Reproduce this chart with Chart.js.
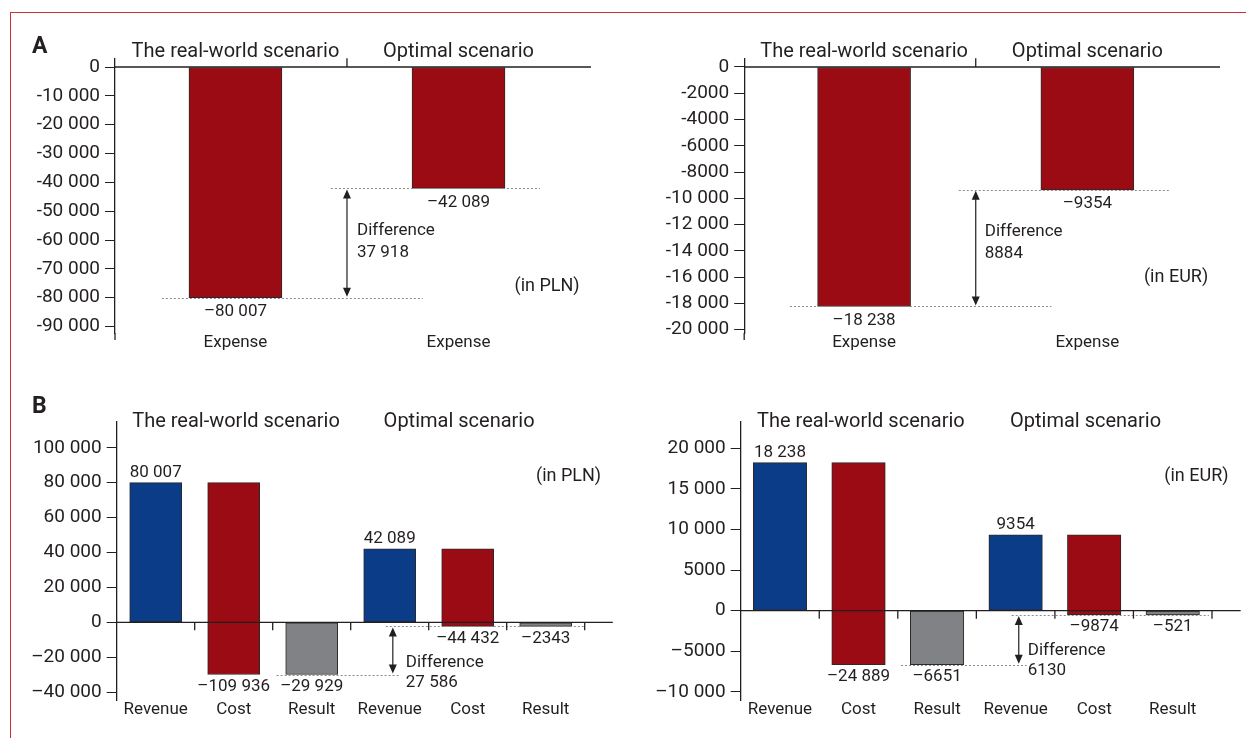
<!DOCTYPE html>
<html>
<head>
<meta charset="utf-8">
<script src="https://cdn.jsdelivr.net/npm/chart.js@4.4.1/dist/chart.umd.min.js"></script>
<style>
  html, body { margin: 0; padding: 0; background: #fff; overflow: hidden; }
  #page { position: relative; width: 1246px; height: 738px; overflow: hidden; }
  #frame { position: absolute; left: 10px; top: 12px; width: 1300px; height: 800px;
           border-top: 1.5px solid #c8323a; border-left: 1.5px solid #c8323a; }
  canvas { position: absolute; }
</style>
</head>
<body>
<div id="page">
  <div id="frame"></div>
  <canvas id="aPln" width="620" height="360" style="left:0;top:0"></canvas>
  <canvas id="aEur" width="626" height="360" style="left:620px;top:0"></canvas>
  <canvas id="bPln" width="620" height="368" style="left:0;top:370px"></canvas>
  <canvas id="bEur" width="626" height="368" style="left:620px;top:370px"></canvas>
</div>
<script>
// panel A: expenses per scenario
const scenarios = ["The real-world scenario", "Optimal scenario"];
const expenseLabels = ["Expense", "Expense"];
const expensePln = [-80007, -42089];
const expenseEur = [-18238, -9354];

// panel B: revenue / cost / result per scenario
const flowLabels = ["Revenue", "Cost", "Result", "Revenue", "Cost", "Result"];
const revenuePln = [80007, 42089];
const costPln = [-109936, -44432];
const resultPln = [-29929, -2343];
const revenueEur = [18238, 9354];
const costEur = [-24889, -9874];
const resultEur = [-6651, -521];

const RED = "#9b0b13", BLUE = "#0b3c87", GREY = "#818285", INK = "#231f20", DOTS = "#8c8c8c";
const FONT = "Roboto, 'Open Sans', sans-serif";

function fmt(v, dash) {
    const a = Math.abs(Math.round(v));
    let s = String(a);
    if (a >= 10000) s = s.replace(/\B(?=(\d{3})+(?!\d))/g, " ");
    return v < 0 ? dash + s : s;
}

function text(ctx, t, x, y, size, align, bold) {
    ctx.font = (bold ? "bold " : "") + size + "px " + FONT;
    ctx.textAlign = align || "center";
    ctx.textBaseline = "middle";
    ctx.fillStyle = INK;
    ctx.fillText(t, x, y);
}

// everything that is not a bar: zero line, dotted levels, arrow, notes
const deco = {
    id: "deco",
    afterDatasetsDraw(chart, args, o) {
        const ctx = chart.ctx, area = chart.chartArea;
        const px = v => chart.scales.x.getPixelForValue(v);
        const py = v => chart.scales.y.getPixelForValue(v);
        ctx.save();

        ctx.strokeStyle = DOTS;
        ctx.lineWidth = 1;
        ctx.setLineDash([2, 2]);
        for (const d of o.dots) {
            const y = Math.round(py(d.y)) + 0.5;
            ctx.beginPath();
            ctx.moveTo(px(d.x1), y);
            ctx.lineTo(px(d.x2), y);
            ctx.stroke();
        }
        ctx.setLineDash([]);

        ctx.strokeStyle = INK;
        ctx.lineWidth = 1.3;
        // y axis runs a little below the plot in panel A
        if (o.axisTail) {
            ctx.beginPath();
            ctx.moveTo(area.left, area.bottom);
            ctx.lineTo(area.left, area.bottom + o.axisTail);
            ctx.stroke();
        }
        const y0 = py(0);
        ctx.beginPath();
        ctx.moveTo(area.left, y0);
        ctx.lineTo(px(o.zeroEnd), y0);
        ctx.stroke();
        for (const c of o.cuts) {
            ctx.beginPath();
            ctx.moveTo(px(c), y0);
            ctx.lineTo(px(c), y0 + o.cutLen);
            ctx.stroke();
        }

        // double arrow between the two levels
        const a = o.arrow;
        const ax = px(a.x), ya = py(a.y1), yb = py(a.y2);
        ctx.lineWidth = 1.2;
        ctx.beginPath();
        ctx.moveTo(ax, ya + 6);
        ctx.lineTo(ax, yb - 6);
        ctx.stroke();
        ctx.fillStyle = INK;
        ctx.beginPath();
        ctx.moveTo(ax, ya + 1); ctx.lineTo(ax - 4, ya + 10); ctx.lineTo(ax + 4, ya + 10); ctx.closePath();
        ctx.moveTo(ax, yb - 1); ctx.lineTo(ax - 4, yb - 10); ctx.lineTo(ax + 4, yb - 10); ctx.closePath();
        ctx.fill();
        text(ctx, "Difference", ax + a.dx, ya + a.dy1, 17, "left");
        text(ctx, fmt(Math.abs(a.y2 - a.y1), ""), ax + a.dx, ya + a.dy2, 17, "left");

        for (const v of o.values) text(ctx, v.t, px(v.x), py(v.y) + v.dy, 17);
        o.titles.forEach((t, i) => text(ctx, t, px(o.titleX[i]), area.top + o.titleDy, 20));
        text(ctx, o.unit.t, px(o.unit.x), py(o.unit.y), 18, "right");
        if (o.letter) text(ctx, o.letter.t, o.letter.x, o.letter.y, 23, "left", true);
        ctx.restore();
    }
};

function panel(id, p) {
    return new Chart(document.getElementById(id), {
        type: "bar",
        data: {
            datasets: [{
                data: p.points,
                backgroundColor: p.colors,
                borderColor: "#2a2a2a",
                borderWidth: 1,
                borderSkipped: false,
                barThickness: p.barWidth,
            }],
        },
        options: {
            responsive: false,
            animation: false,
            devicePixelRatio: 1,
            layout: { padding: p.padding },
            plugins: { legend: { display: false }, tooltip: { enabled: false }, deco: p.deco },
            scales: {
                x: {
                    type: "linear",
                    offset: false,
                    min: p.xMin,
                    max: p.xMax,
                    afterFit: s => { s.height = 20; },
                    afterBuildTicks: s => { s.ticks = p.categories.map((c, i) => ({ value: i })); },
                    grid: { display: false, drawTicks: false },
                    border: { display: false },
                    ticks: {
                        padding: p.xPad,
                        autoSkip: false,
                        maxRotation: 0,
                        color: INK,
                        font: { family: FONT, size: 17 },
                        callback: v => p.categories[v],
                    },
                },
                y: {
                    min: p.yMin,
                    max: p.yMax,
                    afterFit: s => { s.width = p.yWidth; },
                    afterBuildTicks: s => {
                        const out = [];
                        for (let v = Math.ceil(s.min / p.step) * p.step; v <= s.max; v += p.step) out.push({ value: v });
                        s.ticks = out;
                    },
                    grid: { drawOnChartArea: false, tickLength: 10, color: INK },
                    border: { color: INK, width: 1.3 },
                    ticks: {
                        padding: 5,
                        color: INK,
                        font: { family: FONT, size: 19 },
                        callback: v => fmt(v, p.dash),
                    },
                },
            },
        },
        plugins: [deco],
    });
}

function expensePanel(values) {
    return {
        points: values.map((v, i) => ({ x: i, y: v })),
        colors: values.map(() => RED),
        values: values.map((v, i) => ({ t: fmt(v, "–"), x: i, y: v, dy: 14 })),
    };
}

function flowPanel(rev, cost, res) {
    const points = [], colors = [], values = [];
    rev.forEach((r, i) => {
        const k = i * 3;
        points.push({ x: k, y: [0, r] }, { x: k + 1, y: [r, r + cost[i]] }, { x: k + 2, y: [0, res[i]] });
        colors.push(BLUE, RED, GREY);
        values.push({ t: fmt(r, "–"), x: k, y: r, dy: -10 });
        values.push({ t: fmt(cost[i], "–"), x: k + 1, y: r + cost[i], dy: 12 });
        values.push({ t: fmt(res[i], "–"), x: k + 2, y: res[i], dy: 12 });
    });
    return { points, colors, values };
}

const aP = expensePanel(expensePln);
panel("aPln", {
    points: aP.points, colors: aP.colors, barWidth: 93,
    categories: expenseLabels, xMin: -0.54, xMax: 1.594, xPad: 0,
    yMin: -92233, yMax: 3017, step: 10000, dash: "-", yWidth: 115,
    padding: { top: 58.3, right: 29, bottom: 7, left: 0 },
    deco: {
        letter: { t: "A", x: 32, y: 47 },
        titles: scenarios, titleX: [0, 1], titleDy: -6.6,
        zeroEnd: 1.594, cuts: [0.5], cutLen: -8.7, axisTail: 7,
        dots: [{ y: expensePln[0], x1: -0.33, x2: 0.84 }, { y: expensePln[1], x1: 0.428, x2: 1.365 }],
        arrow: { x: 0.5, y1: expensePln[1], y2: expensePln[0], dx: 10, dy1: 42, dy2: 64 },
        unit: { t: "(in PLN)", x: 1.543, y: -76180 },
        values: aP.values,
    },
});

const aE = expensePanel(expenseEur);
panel("aEur", {
    points: aE.points, colors: aE.colors, barWidth: 93,
    categories: expenseLabels, xMin: -0.537, xMax: 1.594, xPad: 0,
    yMin: -20259, yMax: 662.6, step: 2000, dash: "-", yWidth: 124.2,
    padding: { top: 58.3, right: 26, bottom: 7, left: 0 },
    deco: {
        titles: scenarios, titleX: [0, 1], titleDy: -6.6,
        zeroEnd: 1.594, cuts: [0.5], cutLen: -8.7, axisTail: 7,
        dots: [{ y: expenseEur[0], x1: -0.332, x2: 0.839 }, { y: expenseEur[1], x1: 0.424, x2: 1.366 }],
        arrow: { x: 0.5, y1: expenseEur[1], y2: expenseEur[0], dx: 9, dy1: 42, dy2: 64 },
        unit: { t: "(in EUR)", x: 1.541, y: -15994 },
        values: aE.values,
    },
});

const bP = flowPanel(revenuePln, costPln, resultPln);
panel("bPln", {
    points: bP.points, colors: bP.colors, barWidth: 52,
    categories: flowLabels, xMin: -0.5, xMax: 5.5, xPad: 0,
    yMin: -44527, yMax: 114957, step: 20000, dash: "–", yWidth: 116.7,
    padding: { top: 51.7, right: 35.3, bottom: 18, left: 0 },
    deco: {
        letter: { t: "B", x: 32, y: 37 },
        titles: scenarios, titleX: [1.03, 3.89], titleDy: 0,
        zeroEnd: 5.86, cuts: [0.5, 1.5, 2.5, 3.5, 4.5, 5.5], cutLen: 8,
        dots: [{ y: resultPln[0], x1: 1.55, x2: 3.14 }, { y: resultPln[1], x1: 2.95, x2: 5.5 }],
        arrow: { x: 3.04, y1: resultPln[1], y2: resultPln[0], dx: 13, dy1: 36, dy2: 56 },
        unit: { t: "(in PLN)", x: 5.71, y: 83438 },
        values: bP.values,
    },
});

const bE = flowPanel(revenueEur, costEur, resultEur);
panel("bEur", {
    points: bE.points, colors: bE.colors, barWidth: 53.5,
    categories: flowLabels, xMin: -0.5, xMax: 5.5, xPad: 0,
    yMin: -10998, yMax: 23276, step: 5000, dash: "–", yWidth: 120.7,
    padding: { top: 51.7, right: 34, bottom: 18, left: 0 },
    deco: {
        titles: scenarios, titleX: [1.03, 3.89], titleDy: 0,
        zeroEnd: 5.865, cuts: [0.5, 1.5, 2.5, 3.5, 4.5, 5.5], cutLen: 8,
        dots: [{ y: resultEur[0], x1: 1.54, x2: 3.14 }, { y: resultEur[1], x1: 2.95, x2: 5.46 }],
        arrow: { x: 3.04, y1: resultEur[1], y2: resultEur[0], dx: 9, dy1: 36, dy2: 56 },
        unit: { t: "(in EUR)", x: 5.71, y: 16588 },
        values: bE.values,
    },
});
</script>
</body>
</html>
